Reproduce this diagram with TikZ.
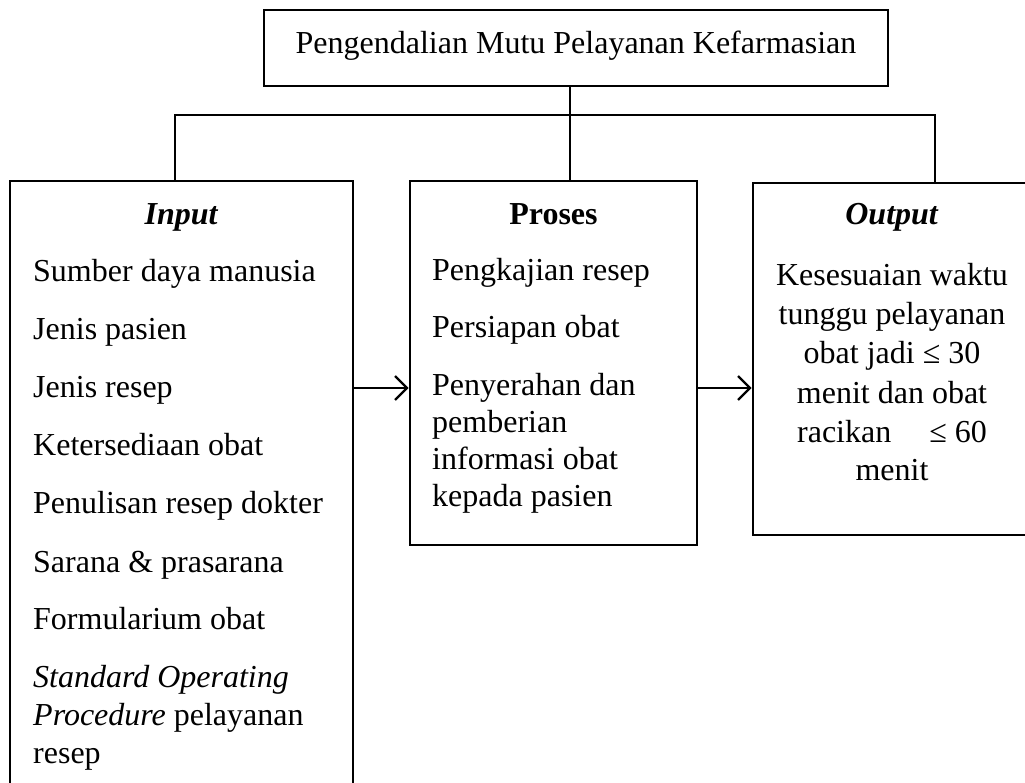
\documentclass[tikz,border=0pt]{standalone}
\usepackage{fontspec}
\setmainfont{Liberation Serif}
\usetikzlibrary{arrows.meta}
\begin{document}
\begin{tikzpicture}[x=1pt,y=-1pt,
  boxnode/.style={draw, line width=2.6pt, inner sep=0pt},
  txt/.style={inner sep=0pt, anchor=base west, font=\fontsize{32}{37}\selectfont},
  ctxt/.style={inner sep=0pt, anchor=base, font=\fontsize{32}{37}\selectfont},
  conn/.style={line width=2.4pt},
  arr/.style={line width=2.4pt, -{Straight Barb[length=12pt,width=24pt,line width=2.4pt]}}
]
\useasboundingbox (0,0) rectangle (1025,782);
\clip (0,0) rectangle (1025,782);
% boxes
\node[boxnode, minimum width=624pt, minimum height=76pt] (title) at (576,48) {};
\node[boxnode, minimum width=343pt, minimum height=649pt] (inp) at (181.5,505.5) {};
\node[boxnode, minimum width=287pt, minimum height=364pt] (proc) at (553.5,363) {};
\node[boxnode, minimum width=278pt, minimum height=352pt] (outp) at (892,359) {};
% title text
\node[ctxt] (ttl) at (576,53) {Pengendalian Mutu Pelayanan Kefarmasian};
% input
\node[ctxt] (ih) at (181.5,224) {\textbf{\textit{Input}}};
\node[txt] (i1) at (33,281) {Sumber daya manusia};
\node[txt] (i2) at (33,339) {Jenis pasien};
\node[txt] (i3) at (33,397) {Jenis resep};
\node[txt] (i4) at (33,455) {Ketersediaan obat};
\node[txt] (i5) at (33,513) {Penulisan resep dokter};
\node[txt] (i6) at (33,572) {Sarana \& prasarana};
\node[txt] (i7) at (33,629) {Formularium obat};
\node[txt] (i8) at (33,687) {\textit{Standard Operating}};
\node[txt] (i9) at (33,725) {\textit{Procedure} pelayanan};
\node[txt] (i10) at (33,763) {resep};
% proses
\node[ctxt] (ph) at (553.5,224) {\textbf{Proses}};
\node[txt] (p1) at (432,280) {Pengkajian resep};
\node[txt] (p2) at (432,337) {Persiapan obat};
\node[txt] (p3) at (432,395) {Penyerahan dan};
\node[txt] (p4) at (432,432) {pemberian};
\node[txt] (p5) at (432,469) {informasi obat};
\node[txt] (p6) at (432,506) {kepada pasien};
% output
\node[ctxt] (oh) at (892,224) {\textbf{\textit{Output}}};
\node[ctxt] (o1) at (892,285) {Kesesuaian waktu};
\node[ctxt] (o2) at (892,324) {tunggu pelayanan};
\node[ctxt] (o3) at (892,363) {obat jadi ≤ 30};
\node[ctxt] (o4) at (892,403) {menit dan obat};
\node[ctxt] (o5) at (892,442) {racikan\hspace{38pt}≤ 60};
\node[ctxt] (o6) at (892,480) {menit};
% connectors
\coordinate (jl) at (175,115);
\coordinate (jr) at (935,115);
\coordinate (jt) at (570,115);
\coordinate (ay) at (0,388);
\draw[conn] (title.south -| jt) -- (jt) -- (jt |- proc.north);
\draw[conn] (jl |- inp.north) -- (jl) -- (jr) -- (jr |- outp.north);
\draw[arr] (inp.east |- ay) -- (proc.west |- ay);
\draw[arr] (proc.east |- ay) -- (outp.west |- ay);
\end{tikzpicture}
\end{document}
